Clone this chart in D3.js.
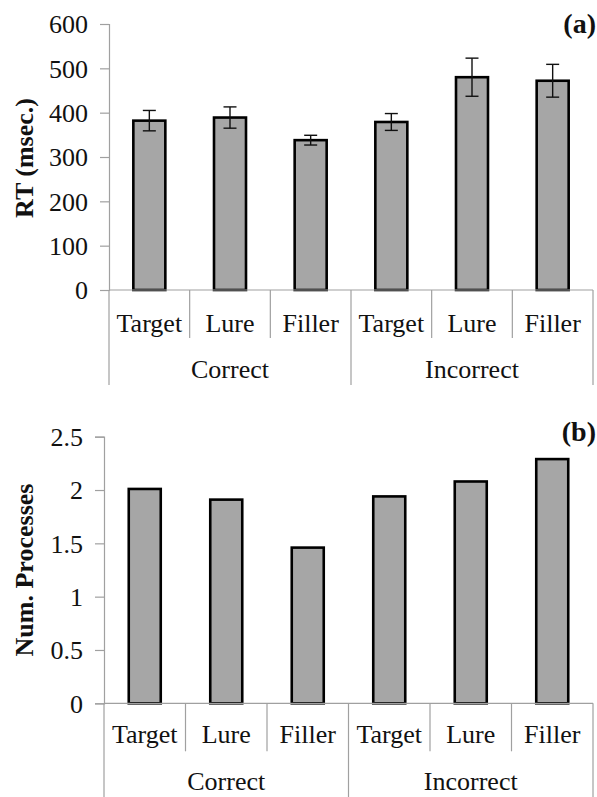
<!DOCTYPE html>
<html>
<head>
<meta charset="utf-8">
<script src="https://cdn.jsdelivr.net/npm/d3@7/dist/d3.min.js"></script>
<style>
  html, body { margin: 0; padding: 0; background: #fff; }
  svg { display: block; }
  text { font-family: "Liberation Serif", "Times New Roman", "DejaVu Serif", serif; fill: #111; }
</style>
</head>
<body>
<svg id="chart" width="597" height="797"></svg>
<script>
// Conditions along the x axis: response group x item type
const groups = ["Correct", "Incorrect"];
const itemTypes = ["Target", "Lure", "Filler"];

// Panel (a): mean response time (msec.) and error-bar half-width
const rtMeans = [382, 389, 338, 379, 480, 472];
const rtErrors = [23, 24, 11, 19, 43, 37];
const rtTicks = [0, 100, 200, 300, 400, 500, 600];

// Panel (b): mean number of processes
const numProcesses = [2.01, 1.91, 1.46, 1.94, 2.08, 2.29];
const npTicks = [0, 0.5, 1, 1.5, 2, 2.5];

const svg = d3.select("#chart");
const FONT = 26;
const SERIF = "Liberation Serif, Times New Roman, DejaVu Serif, serif";

const categories = [];
groups.forEach(g => itemTypes.forEach(t => categories.push({group: g, type: t, key: g + "-" + t})));

function drawPanel(opt) {
  const g = svg.append("g");
  const x = d3.scaleBand().domain(categories.map(c => c.key))
    .range([opt.left, opt.right]).paddingInner(0).paddingOuter(0);
  const y = d3.scaleLinear().domain(opt.domain).range([opt.bottom, opt.top]);

  // y axis
  const yAxis = d3.axisLeft(y).tickValues(opt.ticks).tickSize(9).tickPadding(12)
    .tickFormat(d3.format(opt.fmt));
  const ya = g.append("g").attr("transform", `translate(${opt.left},0)`).call(yAxis)
    .attr("font-family", SERIF);
  ya.select(".domain").attr("stroke", "#a0a0a0").attr("stroke-width", 1.2);
  ya.selectAll(".tick line").attr("stroke", "#a0a0a0").attr("stroke-width", 1.2);
  ya.selectAll(".tick text").attr("font-size", FONT)
    .attr("fill", "#111").attr("dy", "0.34em");

  // bars
  const bw = 32;
  g.selectAll("rect.bar").data(opt.values).join("rect")
    .attr("class", "bar")
    .attr("x", (d, i) => x(categories[i].key) + x.bandwidth() / 2 - bw / 2)
    .attr("width", bw)
    .attr("y", d => y(d))
    .attr("height", d => y(0) - y(d))
    .attr("fill", "#a6a6a6")
    .attr("stroke", "#000")
    .attr("stroke-width", 2.6);

  // error bars
  if (opt.errors) {
    const eg = g.append("g").attr("stroke", "#111").attr("stroke-width", 1.4);
    opt.values.forEach((v, i) => {
      const cx = x(categories[i].key) + x.bandwidth() / 2;
      const hi = y(v + opt.errors[i]), lo = y(v - opt.errors[i]);
      eg.append("line").attr("x1", cx).attr("x2", cx).attr("y1", hi).attr("y2", lo);
      eg.append("line").attr("x1", cx - 6.5).attr("x2", cx + 6.5).attr("y1", hi).attr("y2", hi);
      eg.append("line").attr("x1", cx - 6.5).attr("x2", cx + 6.5).attr("y1", lo).attr("y2", lo);
    });
  }

  // category axis: baseline, dividers and two-level labels
  const base = y(0);
  const ax = g.append("g").attr("stroke", "#a0a0a0").attr("stroke-width", 1.2);
  ax.append("line").attr("x1", opt.left).attr("x2", opt.right).attr("y1", base).attr("y2", base);
  categories.forEach((c, i) => {
    const xl = x(c.key);
    const isGroupStart = i % itemTypes.length === 0;
    ax.append("line").attr("x1", xl).attr("x2", xl).attr("y1", base)
      .attr("y2", isGroupStart ? opt.groupLineEnd : base + opt.subLineLen);
  });
  ax.append("line").attr("x1", opt.right).attr("x2", opt.right).attr("y1", base).attr("y2", opt.groupLineEnd);

  g.selectAll("text.cat").data(categories).join("text")
    .attr("class", "cat")
    .attr("x", c => x(c.key) + x.bandwidth() / 2)
    .attr("y", base + opt.subLabelDy)
    .attr("text-anchor", "middle").attr("font-size", FONT)
    .text(c => c.type);

  groups.forEach(gr => {
    const keys = categories.filter(c => c.group === gr).map(c => c.key);
    const x0 = x(keys[0]), x1 = x(keys[keys.length - 1]) + x.bandwidth();
    g.append("text").attr("x", (x0 + x1) / 2).attr("y", base + opt.groupLabelDy)
      .attr("text-anchor", "middle").attr("font-size", FONT).text(gr);
  });

  // y-axis title
  g.append("text")
    .attr("transform", `translate(${opt.titleX},${opt.titleY}) rotate(-90)`)
    .attr("text-anchor", "middle").attr("font-size", FONT).attr("font-weight", "bold")
    .text(opt.title);

  // panel tag
  g.append("text").attr("x", 596).attr("y", opt.tagY)
    .attr("text-anchor", "end").attr("font-size", 28).attr("font-weight", "bold")
    .text(opt.tag);
}

drawPanel({
  left: 109, right: 593, top: 24, bottom: 290,
  domain: [0, 600], ticks: rtTicks, fmt: "d",
  values: rtMeans, errors: rtErrors,
  subLineLen: 48, groupLineEnd: 385, subLabelDy: 42, groupLabelDy: 88,
  title: "RT (msec.)", titleX: 33, titleY: 158,
  tag: "(a)", tagY: 33
});

drawPanel({
  left: 104, right: 593, top: 436.7, bottom: 703.3,
  domain: [0, 2.5], ticks: npTicks, fmt: "",
  values: numProcesses, errors: null,
  subLineLen: 48, groupLineEnd: 797, subLabelDy: 40, groupLabelDy: 87,
  title: "Num. Processes", titleX: 33, titleY: 570,
  tag: "(b)", tagY: 441
});
</script>
</body>
</html>
